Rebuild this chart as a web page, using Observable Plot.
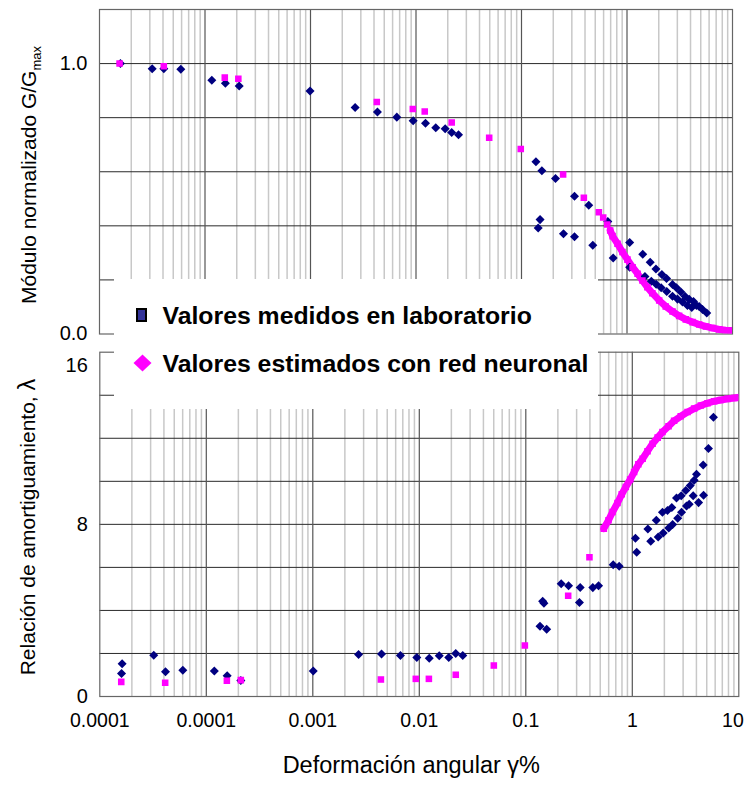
<!DOCTYPE html>
<html><head><meta charset="utf-8">
<script src="https://cdn.jsdelivr.net/npm/d3@7"></script>
<script src="https://cdn.jsdelivr.net/npm/@observablehq/plot@0.6"></script>
<style>
body{margin:0;background:#fff;}
#wrap{position:relative;width:744px;height:789px;overflow:hidden;background:#fff;font-family:"Liberation Sans",Arial,sans-serif;}
#wrap svg{position:absolute;left:0;}
.ytitle{position:absolute;white-space:nowrap;font-size:21px;line-height:1;color:#000;transform:translate(-50%,-50%) rotate(-90deg);}
#legend{position:absolute;left:114px;top:278.5px;width:484px;height:130.5px;background:#fff;z-index:5;}
#legend .lt{position:absolute;left:48.5px;font-weight:bold;font-size:24.8px;line-height:1;white-space:nowrap;color:#000;}
#legend svg{position:absolute;}
</style></head><body><div id="wrap"></div>
<script>
// ---------- data ----------
const xTickValues = [1e-5, 1e-4, 1e-3, 1e-2, 1e-1, 1, 10];
const xTickLabels = ["0.0001", "0.0001", "0.001", "0.01", "0.1", "1", "10"];
const topYTicks = [0, 1];
const topYTickLabels = ["0.0", "1.0"];
const botYTicks = [0, 8];
const botYTopTick = [16];

// G/Gmax, measured (navy diamonds)
const gMedX = [1.58e-5,3.16e-5,4.07e-5,5.9e-5,1.16e-4,1.56e-4,2.11e-4,9.9e-4,2.65e-3,4.31e-3,6.58e-3,9.4e-3,0.0123,0.0154,0.0189,0.0218,0.0253,0.137,0.156,0.210,0.318,0.434,0.658,0.150,0.144,0.250,0.318,0.474,0.740,1.06,1.41,1.66,1.88,2.14,2.37,2.70,2.94,3.24,3.56,3.89,4.27,4.83,5.70,1.06,1.48,1.70,1.89,2.11,2.38,2.70,3.01,3.36,3.74,4.11,4.56,5.20];
const gMedY = [1.0,0.981,0.981,0.979,0.938,0.927,0.917,0.899,0.838,0.821,0.802,0.789,0.779,0.763,0.759,0.745,0.737,0.637,0.604,0.575,0.509,0.476,0.416,0.423,0.392,0.371,0.360,0.328,0.281,0.338,0.295,0.265,0.240,0.220,0.205,0.183,0.171,0.155,0.139,0.128,0.120,0.102,0.078,0.247,0.213,0.195,0.184,0.171,0.157,0.140,0.129,0.118,0.105,0.098,0.105,0.091];
// G/Gmax, neural network (magenta squares)
const gEstX = [1.55e-5,4.07e-5,1.54e-4,2.07e-4,4.25e-3,9.33e-3,0.0121,0.0218,0.0494,0.0984,0.248,0.390,0.541,0.595,0.649,0.693,0.730,0.813,0.906,1.01,1.13,1.26,1.40,1.56,1.74,2.02,2.33,2.70,3.12,3.61,4.18,4.83,5.59,6.47,7.48,8.64,9.84];
const gEstY = [1.0,0.990,0.948,0.944,0.858,0.832,0.823,0.782,0.726,0.684,0.590,0.504,0.450,0.431,0.405,0.383,0.362,0.334,0.303,0.275,0.247,0.223,0.198,0.173,0.151,0.124,0.102,0.083,0.067,0.054,0.044,0.035,0.028,0.022,0.017,0.014,0.013];
// damping, measured
const dMedX = [1.62e-5,1.6e-5,3.21e-5,4.14e-5,6.02e-5,1.19e-4,1.57e-4,2.11e-4,1.01e-3,2.69e-3,4.42e-3,6.65e-3,9.48e-3,0.0124,0.0154,0.0189,0.0220,0.0256,0.136,0.157,0.144,0.148,0.215,0.252,0.324,0.319,0.426,0.482,0.662,0.753,1.07,1.10,1.40,1.49,1.68,1.75,1.92,1.95,2.14,2.20,2.35,2.39,2.60,2.67,2.88,2.90,3.18,3.23,3.50,3.42,3.81,3.73,4.01,4.19,4.63,4.67,5.19,5.78];
const dMedY = [1.52,1.07,1.92,1.15,1.22,1.18,0.96,0.74,1.18,1.95,1.98,1.91,1.81,1.78,1.89,1.81,2.00,1.91,3.26,3.12,4.43,4.33,5.24,5.15,5.07,4.37,5.06,5.15,6.12,6.05,7.35,6.70,7.78,7.21,8.19,7.41,8.56,7.60,8.64,7.83,8.78,7.99,9.22,8.28,9.33,8.56,9.57,8.85,9.80,8.93,10.05,9.33,10.33,9.01,10.76,9.35,11.52,12.98];
// damping, neural network
const dEstX = [1.59e-5,4.11e-5,1.56e-4,2.11e-4,4.36e-3,9.27e-3,0.0123,0.0220,0.0501,0.098,0.250,0.396,0.540,0.598,0.652,0.726,0.796,0.869,0.955,1.04,1.14,1.25,1.39,1.55,1.73,1.92,2.19,2.47,2.85,3.30,3.81,4.40,5.08,5.87,6.78,7.83,9.06,10.4];
const dEstY = [0.68,0.64,0.73,0.76,0.79,0.82,0.82,1.01,1.44,2.37,4.68,6.47,7.80,8.19,8.57,8.99,9.40,9.74,10.08,10.43,10.79,11.05,11.40,11.75,12.03,12.29,12.56,12.81,13.02,13.22,13.38,13.52,13.63,13.72,13.78,13.83,13.87,13.91];

const legendLabels = ["Valores medidos en laboratorio", "Valores estimados con red neuronal"];
const colMed = "#000080", colEst = "#ff00ff";
const xTitle = "Deformación angular γ%";

// ---------- helpers ----------
const zip = (xs, ys) => xs.map((x, i) => ({x, y: ys[i]}));
const gMed = zip(gMedX, gMedY), gEst = zip(gEstX, gEstY);
const dMed = zip(dMedX, dMedY), dEst = zip(dEstX, dEstY);
const xTicks = zip(xTickValues, xTickLabels);

const diamondSym = {draw(ctx, size){ const r = Math.sqrt(size/2); ctx.moveTo(0,-r); ctx.lineTo(r,0); ctx.lineTo(0,r); ctx.lineTo(-r,0); ctx.closePath(); }};
const squareSym = {draw(ctx, size){ const w = Math.sqrt(size); ctx.rect(-w/2,-w/2,w,w); }};

const minor = [];
for (let d = -5; d <= 0; d++) for (let k = 2; k <= 9; k++) minor.push(k * Math.pow(10, d));
const major = xTickValues.slice(1, -1);
const font = '"Liberation Sans", Arial, sans-serif';

function gridMarks(hLines){
  return [
    Plot.ruleX(minor, {stroke: "#c8c8c8", strokeWidth: 1.5}),
    Plot.ruleY(hLines, {stroke: "#2a2a2a", strokeWidth: 1}),
    Plot.ruleX(major, {stroke: "#555", strokeWidth: 1.2}),
    Plot.frame({stroke: "#666", strokeWidth: 1.2})
  ];
}
function dataMarks(med, est, lineFrom){
  return [
    Plot.line(est.filter(d => d.x >= lineFrom), {x: "x", y: "y", stroke: colEst, strokeWidth: 7, clip: true}),
    Plot.dot(med, {x: "x", y: "y", symbol: diamondSym, r: 3.6, fill: colMed, stroke: "none", clip: true}),
    Plot.dot(est, {x: "x", y: "y", symbol: squareSym, r: 3.7, fill: colEst, stroke: "none", clip: true})
  ];
}

const topPlot = Plot.plot({
  width: 744, height: 346,
  marginLeft: 99, marginRight: 12, marginTop: 9, marginBottom: 12.5,
  x: {type: "log", domain: [1e-5, 10], axis: null},
  y: {domain: [0, 1.2], axis: null},
  style: {background: "transparent", fontFamily: font, fontSize: "20px", color: "#000"},
  marks: [
    ...gridMarks([0.2, 0.4, 0.6, 0.8, 1.0]),
    ...dataMarks(gMed, gEst, 0.69),
    Plot.text(topYTicks, {y: d => d, text: (d, i) => topYTickLabels[i], frameAnchor: "left", textAnchor: "end", dx: -12, fontSize: 20, fill: "#000"})
  ]
});
topPlot.style.top = "0px";

const botPlot = Plot.plot({
  width: 744, height: 449,
  marginLeft: 99.3, marginRight: 5.7, marginTop: 11.7, marginBottom: 93,
  x: {type: "log", domain: [1e-5, 10], axis: null},
  y: {domain: [0, 16], axis: null},
  style: {background: "transparent", fontFamily: font, fontSize: "20px", color: "#000"},
  marks: [
    ...gridMarks([2, 4, 6, 8, 10, 12, 14]),
    ...dataMarks(dMed, dEst, 0.5),
    Plot.text(botYTicks, {y: d => d, text: d => String(d), frameAnchor: "left", textAnchor: "end", dx: -12, fontSize: 20, fill: "#000"}),
    Plot.text(botYTopTick, {y: d => d, text: d => String(d), frameAnchor: "left", textAnchor: "end", dx: -12, dy: 13, fontSize: 20, fill: "#000"}),
    Plot.text(xTicks.slice(0, -1), {x: "x", text: "y", frameAnchor: "bottom", dy: 30, fontSize: 19.5, fill: "#000"}),
    Plot.text(xTicks.slice(-1), {x: "x", text: "y", frameAnchor: "bottom", textAnchor: "end", dx: 5, dy: 30, fontSize: 19.5, fill: "#000"}),
    Plot.text([xTitle], {text: d => d, frameAnchor: "bottom", dx: -8, dy: 76, fontSize: 23.5, fill: "#000"})
  ]
});
botPlot.style.top = "340px";

const wrap = document.getElementById("wrap");
wrap.appendChild(topPlot);
wrap.appendChild(botPlot);

// y titles
const t1 = document.createElement("div");
t1.className = "ytitle";
t1.style.left = "27.7px"; t1.style.top = "174.5px";
t1.innerHTML = 'Módulo normalizado G/G<span style="font-size:0.62em;position:relative;top:0.35em">max</span>';
wrap.appendChild(t1);
const t2 = document.createElement("div");
t2.className = "ytitle";
t2.style.left = "27.7px"; t2.style.top = "526.5px";
t2.innerHTML = 'Relación de amortiguamiento, <span style="font-size:1.12em">λ</span>';
wrap.appendChild(t2);

// legend
const lg = document.createElement("div");
lg.id = "legend";
lg.innerHTML =
  `<svg style="left:22px;top:29.5px" width="11" height="14"><rect x="1" y="1" width="9" height="12" fill="#333399" stroke="#000" stroke-width="2"/></svg>` +
  `<div class="lt" style="top:25.5px">${legendLabels[0]}</div>` +
  `<svg style="left:19px;top:75px" width="19" height="18"><path d="M9.5 0.5 L18.5 9 L9.5 17.5 L0.5 9 Z" fill="${colEst}"/></svg>` +
  `<div class="lt" style="top:73.8px">${legendLabels[1]}</div>`;
wrap.appendChild(lg);
</script></body></html>
